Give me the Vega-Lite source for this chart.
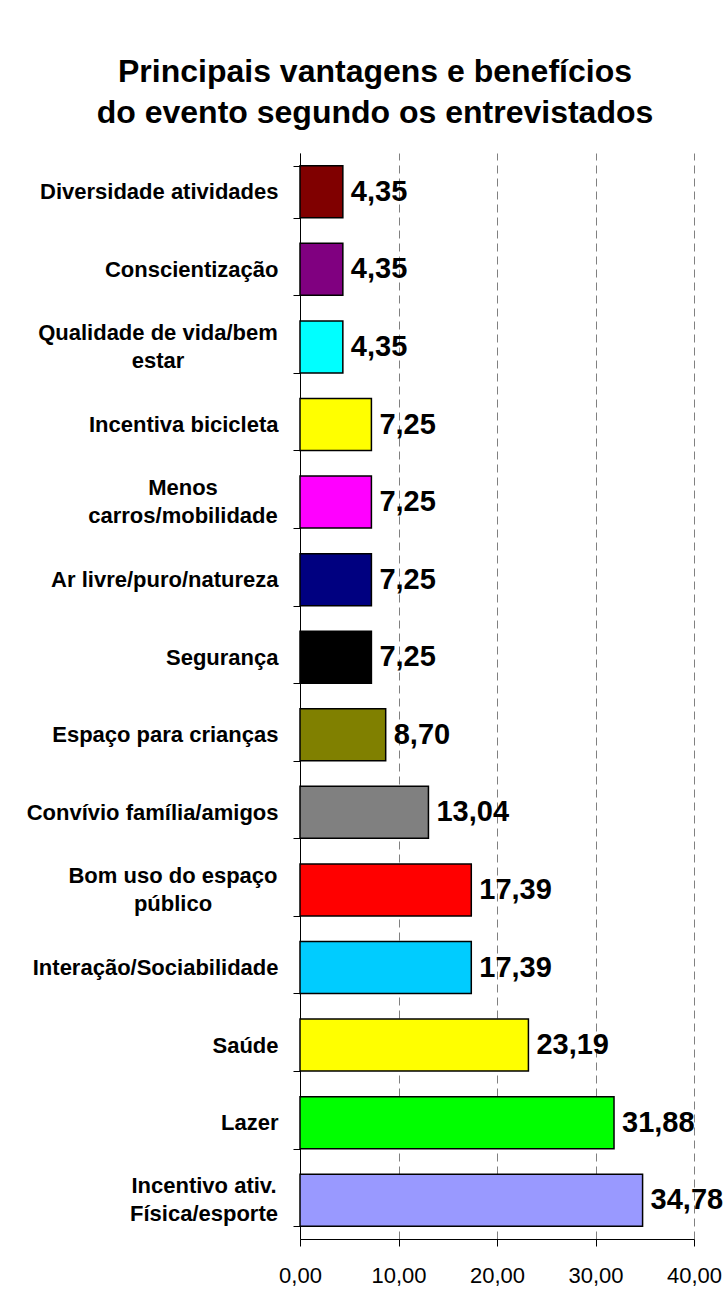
{
  "$schema": "https://vega.github.io/schema/vega-lite/v6.json",
  "autosize": {"type": "none"},
  "width": 394,
  "height": 1086,
  "padding": {"left": 300, "top": 153, "right": 33, "bottom": 51},
  "background": "white",
  "title": {
    "text": ["Principais vantagens e benefícios", "do evento segundo os entrevistados"],
    "font": "Liberation Sans",
    "fontSize": 32,
    "fontWeight": "bold",
    "color": "black",
    "lineHeight": 41,
    "anchor": "middle",
    "baseline": "bottom",
    "dx": -122,
    "dy": 44,
    "offset": 24
  },
  "config": {
    "locale": {"number": {"decimal": ",", "thousands": ".", "grouping": [3], "currency": ["", ""]}},
    "view": {"stroke": null},
    "font": "Liberation Sans"
  },
  "data": {
    "values": [
      {"categoria": "Diversidade atividades", "valor": 4.35},
      {"categoria": "Conscientização", "valor": 4.35},
      {"categoria": "Qualidade de vida/bem|estar", "valor": 4.35},
      {"categoria": "Incentiva bicicleta", "valor": 7.25},
      {"categoria": "Menos|carros/mobilidade", "valor": 7.25},
      {"categoria": "Ar livre/puro/natureza", "valor": 7.25},
      {"categoria": "Segurança", "valor": 7.25},
      {"categoria": "Espaço para crianças", "valor": 8.70},
      {"categoria": "Convívio família/amigos", "valor": 13.04},
      {"categoria": "Bom uso do espaço|público", "valor": 17.39},
      {"categoria": "Interação/Sociabilidade", "valor": 17.39},
      {"categoria": "Saúde", "valor": 23.19},
      {"categoria": "Lazer", "valor": 31.88},
      {"categoria": "Incentivo ativ.|Física/esporte", "valor": 34.78}
    ]
  },
  "encoding": {
    "y": {
      "field": "categoria",
      "type": "nominal",
      "sort": null,
      "scale": {"paddingInner": 0.33, "paddingOuter": 0.165},
      "axis": {
        "title": null,
        "labelExpr": "indexof(datum.label, '|') >= 0 ? '' : datum.label",
        "labelFont": "Liberation Sans",
        "labelFontSize": 22,
        "labelFontWeight": "bold",
        "labelColor": "black",
        "labelPadding": 15,
        "labelLimit": 400,
        "tickBand": "extent",
        "tickSize": 7,
        "tickColor": "black",
        "domainColor": "black",
        "domainWidth": 1,
        "grid": false
      }
    },
    "x": {
      "field": "valor",
      "type": "quantitative",
      "scale": {"domain": [0, 40], "nice": false},
      "axis": {
        "title": null,
        "values": [0, 10, 20, 30, 40],
        "format": ".2f",
        "labelFont": "Liberation Sans",
        "labelFontSize": 22,
        "labelColor": "black",
        "labelPadding": 19,
        "labelFlush": false,
        "labelBound": false,
        "labelOverlap": false,
        "tickSize": 7,
        "tickColor": "black",
        "domainColor": "black",
        "domainWidth": 1,
        "grid": true,
        "gridColor": "#808080",
        "gridDash": [8, 5],
        "gridWidth": 1
      }
    }
  },
  "layer": [
    {
      "mark": {"type": "bar", "stroke": "black", "strokeWidth": 1.5},
      "encoding": {
        "color": {
          "field": "categoria",
          "type": "nominal",
          "legend": null,
          "scale": {
            "domain": ["Diversidade atividades", "Conscientização", "Qualidade de vida/bem|estar", "Incentiva bicicleta", "Menos|carros/mobilidade", "Ar livre/puro/natureza", "Segurança", "Espaço para crianças", "Convívio família/amigos", "Bom uso do espaço|público", "Interação/Sociabilidade", "Saúde", "Lazer", "Incentivo ativ.|Física/esporte"],
            "range": ["#800000", "#800080", "#00FFFF", "#FFFF00", "#FF00FF", "#000080", "#000000", "#808000", "#808080", "#FF0000", "#00CCFF", "#FFFF00", "#00FF00", "#9999FF"]
          }
        }
      }
    },
    {
      "mark": {"type": "text", "align": "left", "baseline": "middle", "dx": 8, "font": "Liberation Sans", "fontSize": 29, "fontWeight": "bold", "color": "black"},
      "encoding": {
        "text": {"field": "valor", "type": "quantitative", "format": ".2f"}
      }
    },
    {
      "transform": [{"filter": "datum.categoria == 'Qualidade de vida/bem|estar'"}],
      "mark": {"type": "text", "align": "center", "baseline": "middle", "lineBreak": "|", "lineHeight": 28, "dx": -142, "dy": -14, "font": "Liberation Sans", "fontSize": 22, "fontWeight": "bold", "color": "black"},
      "encoding": {
        "x": {"datum": 0, "type": "quantitative"},
        "text": {"field": "categoria", "type": "nominal"}
      }
    },
    {
      "transform": [{"filter": "datum.categoria == 'Menos|carros/mobilidade'"}],
      "mark": {"type": "text", "align": "center", "baseline": "middle", "lineBreak": "|", "lineHeight": 28, "dx": -117, "dy": -14, "font": "Liberation Sans", "fontSize": 22, "fontWeight": "bold", "color": "black"},
      "encoding": {
        "x": {"datum": 0, "type": "quantitative"},
        "text": {"field": "categoria", "type": "nominal"}
      }
    },
    {
      "transform": [{"filter": "datum.categoria == 'Bom uso do espaço|público'"}],
      "mark": {"type": "text", "align": "center", "baseline": "middle", "lineBreak": "|", "lineHeight": 28, "dx": -127, "dy": -14, "font": "Liberation Sans", "fontSize": 22, "fontWeight": "bold", "color": "black"},
      "encoding": {
        "x": {"datum": 0, "type": "quantitative"},
        "text": {"field": "categoria", "type": "nominal"}
      }
    },
    {
      "transform": [{"filter": "datum.categoria == 'Incentivo ativ.|Física/esporte'"}],
      "mark": {"type": "text", "align": "center", "baseline": "middle", "lineBreak": "|", "lineHeight": 28, "dx": -96, "dy": -14, "font": "Liberation Sans", "fontSize": 22, "fontWeight": "bold", "color": "black"},
      "encoding": {
        "x": {"datum": 0, "type": "quantitative"},
        "text": {"field": "categoria", "type": "nominal"}
      }
    }
  ]
}
